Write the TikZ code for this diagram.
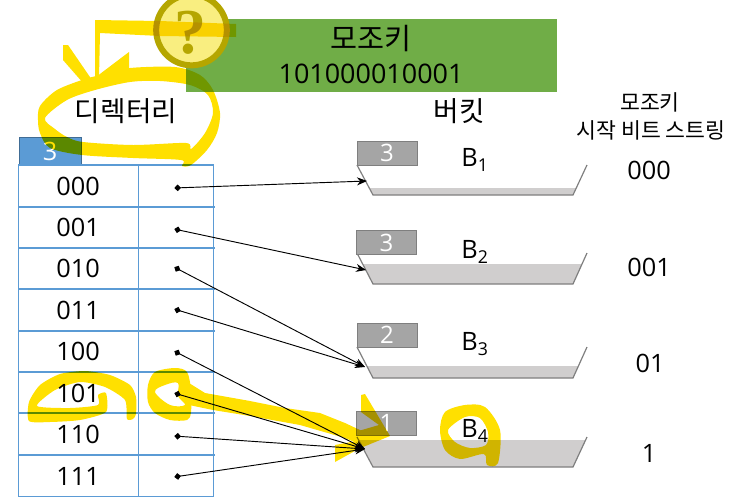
\documentclass[tikz,border=0pt]{standalone}
\usepackage{fontspec}
\setmainfont{Noto Sans CJK KR}
\newfontfamily\latinf{Open Sans}
\newfontfamily\serifq{Liberation Serif}
\usetikzlibrary{arrows.meta}
\definecolor{tblblue}{HTML}{5B9BD5}
\definecolor{boxgreen}{HTML}{70AD47}
\definecolor{pen}{HTML}{FFE000}
\definecolor{boxgrey}{HTML}{A5A5A5}
\definecolor{fillgrey}{HTML}{D0CECE}
\definecolor{edgegrey}{HTML}{7F7F7F}
\definecolor{badgering}{HTML}{B5A600}
\definecolor{badgefill}{HTML}{F9EE80}
\tikzset{
  x=0.75pt,y=-0.75pt,
  cell/.style={font=\fontsize{19}{19}\selectfont\latinf,text=black,inner sep=0pt},
  title/.style={font=\fontsize{20.8}{20.8}\selectfont,text=black,inner sep=0pt},
  small/.style={font=\fontsize{16.2}{16.2}\selectfont,text=black,inner sep=0pt},
  tag/.style={draw=edgegrey,fill=boxgrey,line width=0.75pt,minimum width=45pt,minimum height=18pt,inner sep=0pt,text=white,font=\fontsize{18}{18}\selectfont\latinf},
  grid/.style={draw=tblblue,line width=0.8pt},
  dot/.style={inner sep=0pt,minimum size=0.1pt},
  link/.style={draw=black,line width=0.7pt,{Diamond[length=5pt,width=5pt]}-{Stealth[length=7.5pt,width=6pt]}},
  wall/.style={draw=edgegrey,line width=0.9pt},
  marker/.style={fill=pen,even odd rule},
}
\begin{document}
\begin{tikzpicture}
\useasboundingbox (0,0) rectangle (751,500);
% green box
\fill[boxgreen] (186,19) rectangle (557,92);
\node[title,font=\fontsize{22}{22}\selectfont] (k1) at (371,39) {모조키};
\node[title,font=\fontsize{20.2}{20.2}\selectfont\latinf] (k2) at (371,74) {101000010001};
% titles
\node[title] (dir) at (126,111) {디렉터리};
\node[title] (bkt) at (459,111) {버킷};
\node[small] (s1) at (650,102) {모조키};
\node[small] (s2) at (651,130) {시작 비트 스트링};
% directory table
\node[draw=tblblue!70!black,fill=tblblue,line width=0.7pt,minimum width=46.5pt,minimum height=21pt,inner sep=0pt,text=white,font=\fontsize{19}{19}\selectfont\latinf] (depth) at (50,151) {3};
\draw[grid] (18.5,165) rectangle (213.5,496.5);
\draw[grid] (138.5,165) -- (138.5,496.5);
\foreach \yy in {207,248,289,331,372,413,455} \draw[grid] (18.5,\yy) -- (214.5,\yy);
\node[cell] (r0) at (78,186) {000};
\node[cell] (r1) at (78,227) {001};
\node[cell] (r2) at (78,268) {010};
\node[cell] (r3) at (78,310) {011};
\node[cell] (r4) at (78,351) {100};
\node[cell] (r5) at (78,393) {101};
\node[cell] (r6) at (78,434) {110};
\node[cell] (r7) at (78,476) {111};
% buckets
\fill[fillgrey] (369.3,188) -- (576.3,188) -- (573,195) -- (373,195) -- cycle;
\fill[fillgrey] (362.7,264) -- (582,264) -- (573,284) -- (373,284) -- cycle;
\fill[fillgrey] (366.8,366) -- (578.4,366) -- (573,378) -- (373,378) -- cycle;
\fill[fillgrey] (358.6,440) -- (585.6,440) -- (573,467) -- (373,467) -- cycle;
\draw[wall] (357,165) -- (373,195) -- (573,195) -- (587,165);
\draw[wall] (357,253) -- (373,284) -- (573,284) -- (587,253);
\draw[wall] (357,347) -- (373,378) -- (573,378) -- (587,347);
\draw[wall] (357,437) -- (373,467) -- (573,467) -- (587,437);
\node[tag] (t1) at (387,153) {3};
\node[tag] (t2) at (386.5,242.5) {3};
\node[tag] (t3) at (387,335) {2};
\node[tag] (t4) at (386.5,423) {1};
\node[cell] (b1) at (475,160) {B\textsubscript{1}};
\node[cell] (b2) at (475,252) {B\textsubscript{2}};
\node[cell] (b3) at (475,344) {B\textsubscript{3}};
\node[cell] (b4) at (475,431) {B\textsubscript{4}};
\node[cell] (p1) at (649,170) {000};
\node[cell] (p2) at (649,267) {001};
\node[cell] (p3) at (650,363) {01};
\node[cell] (p4) at (649,453) {1};
% connectors
\node[dot] (d0) at (174,188) {};
\node[dot] (d1) at (174,229) {};
\node[dot] (d2) at (174,267) {};
\node[dot] (d3) at (174,309) {};
\node[dot] (d4) at (174,351) {};
\node[dot] (d5) at (174,393) {};
\node[dot] (d6) at (174,436) {};
\node[dot] (d7) at (174,477) {};
\coordinate (e1) at (367,181);
\coordinate (e2) at (366,270);
\coordinate (e3) at (365,367);
\coordinate (e4) at (365,449);
\draw[link] (d0) -- (e1);
\draw[link] (d1) -- (e2);
\draw[link] (d2) -- (e3);
\draw[link] (d3) -- (e3);
\draw[link] (d4) -- (e4);
\draw[link] (d5) -- (e4);
\draw[link] (d6) -- (e4);
\draw[link] (d7) -- (e4);
% question badge
\node[circle,draw=badgering,fill=badgefill,line width=4.5pt,minimum size=53pt,inner sep=0pt] (q) at (191.5,30) {};
\node[inner sep=0pt,text=badgering,font=\fontsize{48}{48}\selectfont\serifq\bfseries] (qm) at (190.5,33) {?};
% pen strokes
\begin{scope}[blend mode=multiply,transparency group]
% arrow on the directory title
\fill[marker] (95,20) -- (160,21) -- (236,24) -- (236,37) -- (160,36) -- (100,33) -- (99,78) -- (95,78) -- cycle;
\fill[marker] (63,45) -- (68,45) -- (92,80) -- (129,52) -- (129,68) -- (100,88) -- (84,84) -- (63,60) -- cycle;
% oval: a ring with its outer and inner edge
\fill[marker] plot[smooth cycle,tension=0.5] coordinates {(85,79) (57,90) (40,106) (38,120) (40,133) (50,148) (82,155) (133,158) (181,160) (182,166) (191,165) (207,150) (217,133) (220,113) (213,90) (200,75) (175,67) (130,68) (105,74)}
  plot[smooth cycle,tension=0.5] coordinates {(95,90) (67,100) (45,118) (55,129) (67,137) (83,142) (133,145) (186,143) (191,149) (205,133) (213,113) (208,95) (190,85) (160,81) (130,82)};
% row 101
\fill[marker] plot[smooth cycle,tension=0.4] coordinates {(127,419) (125,400) (105,387) (80,382) (55,390) (37,406) (70,408) (98,405) (98,395) (106,393) (106,412) (80,420) (50,422) (29,421) (29,402) (40,385) (60,374) (85,371) (110,375) (130,385) (136,397) (136,414) (133,419)};
% cell 101 loop with arrow
\fill[marker] plot[smooth cycle,tension=0.5] coordinates {(148,385) (155,372) (175,368) (187,372) (191,390) (191,412) (187,420) (170,420) (155,413) (148,402)}
  plot[smooth cycle,tension=0.6] coordinates {(155,392) (165,385) (178,383) (178,396) (185,405) (170,405)};
\fill[marker] (189,383) -- (205,393) -- (250,401) -- (285,408) -- (320,413) -- (345,423) -- (362,431) -- (362,445) -- (345,438) -- (300,425) -- (250,416) -- (213,410) -- (189,405) -- cycle;
\fill[marker] (361,395) -- (365,394) -- (390,436) -- (363,447) -- (355,432) -- (379,425) -- (361,412) -- cycle;
\fill[marker] (335,445) -- (362,440) -- (362,447) -- (335,462) -- cycle;
% bucket 4 mark
\fill[marker] plot[smooth cycle,tension=0.5] coordinates {(500,430) (498,463) (487,465) (484,454) (460,459) (445,450) (440,430) (445,412) (465,405) (485,407)}
  plot[smooth cycle,tension=0.5] coordinates {(448,430) (465,417) (480,418) (488,432) (486,445) (470,448) (455,442)};
\end{scope}
\end{tikzpicture}
\end{document}
